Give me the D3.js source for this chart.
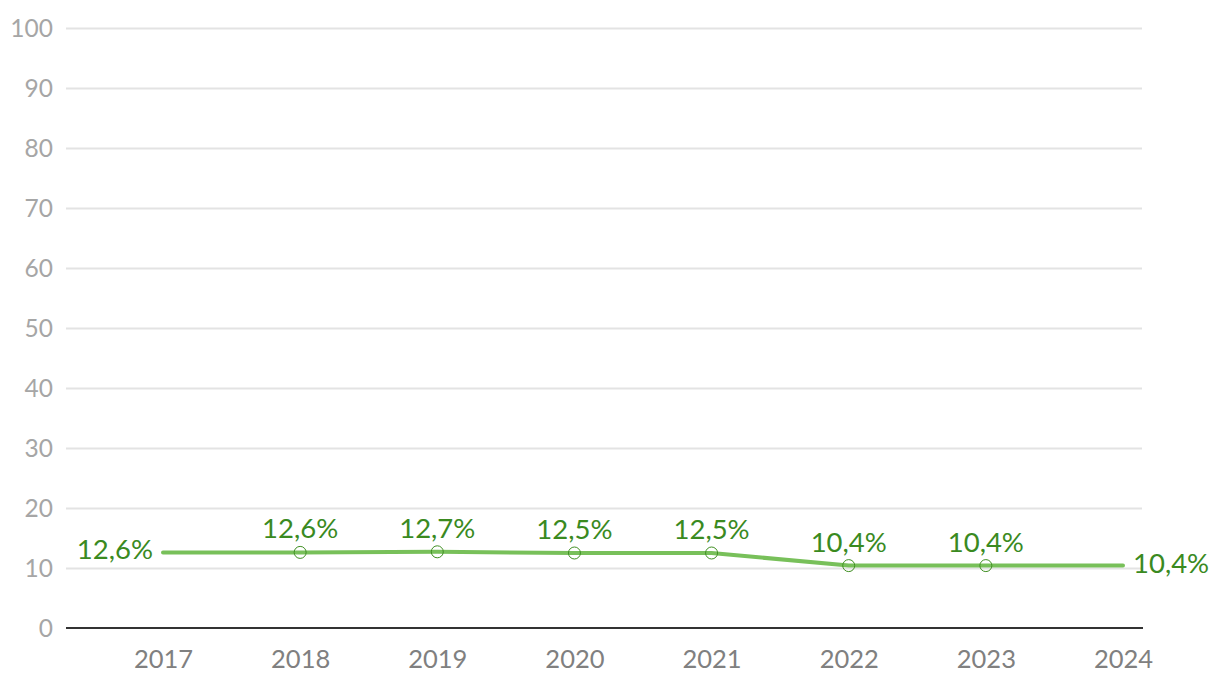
<!DOCTYPE html>
<html><head><meta charset="utf-8">
<script src="https://cdn.jsdelivr.net/npm/d3@7"></script>
<style>body{margin:0;background:#fff}svg{display:block}text{font-family:"Source Sans Pro","Lato","Open Sans",sans-serif}</style>
</head><body>
<svg id="c" width="1220" height="692"></svg>
<script>
const years = [2017, 2018, 2019, 2020, 2021, 2022, 2023, 2024];
const values = [12.6, 12.6, 12.7, 12.5, 12.5, 10.4, 10.4, 10.4];
const labels = ["12,6%", "12,6%", "12,7%", "12,5%", "12,5%", "10,4%", "10,4%", "10,4%"];
const yTicks = [0, 10, 20, 30, 40, 50, 60, 70, 80, 90, 100];

const svg = d3.select("#c");
const x = d3.scaleLinear().domain([2017, 2024]).range([163, 1123]);
const y = d3.scaleLinear().domain([0, 100]).range([628, 28]);
const left = 66, right = 1143;
const FONT = '"Source Sans Pro","Lato","Open Sans",sans-serif';

// gridlines
svg.append("g").selectAll("line").data(yTicks.filter(d => d > 0)).join("line")
  .attr("x1", left).attr("x2", right - 1)
  .attr("y1", d => y(d) + 0.5).attr("y2", d => y(d) + 0.5)
  .attr("stroke", "#e3e3e3").attr("stroke-width", 2);

// y axis labels
const yAxis = d3.axisLeft(y).tickValues(yTicks).tickSize(0).tickPadding(0);
const yg = svg.append("g").attr("transform", `translate(53,0)`).call(yAxis);
yg.select(".domain").remove();
yg.selectAll("text").attr("fill", "#a6a6a6").style("font-size", "24.5px")
  .style("font-family", FONT).attr("dy", "0.36em");

// x axis
const xAxis = d3.axisBottom(x).tickValues(years).tickFormat(d3.format("d")).tickSize(0).tickPadding(0);
const xg = svg.append("g").attr("transform", `translate(0,628)`).call(xAxis);
xg.select(".domain").remove();
xg.selectAll("text").attr("fill", "#808080").style("font-size", "25.5px")
  .style("font-family", FONT).attr("y", 40).attr("dy", 0);
svg.append("line").attr("x1", left).attr("x2", right).attr("y1", 628).attr("y2", 628)
  .attr("stroke", "#333").attr("stroke-width", 2);

// line
const data = years.map((yr, i) => ({yr, v: values[i], l: labels[i], i}));
svg.append("path").datum(data)
  .attr("d", d3.line().x(d => x(d.yr)).y(d => y(d.v)))
  .attr("fill", "none").attr("stroke", "#78c05a").attr("stroke-width", 4)
  .attr("stroke-linecap", "round").attr("stroke-linejoin", "round");

// markers
svg.append("g").selectAll("circle").data(data.slice(1, -1)).join("circle")
  .attr("cx", d => x(d.yr)).attr("cy", d => y(d.v)).attr("r", 6)
  .attr("fill", "none").attr("stroke", "#3f8f22").attr("stroke-width", 1);

// labels
const n = data.length;
svg.append("g").selectAll("text").data(data).join("text")
  .attr("x", d => d.i === 0 ? x(d.yr) - 10 : d.i === n - 1 ? x(d.yr) + 10 : x(d.yr))
  .attr("y", d => (d.i === 0 || d.i === n - 1) ? y(d.v) + 7 : y(d.v) - 14)
  .attr("text-anchor", d => d.i === 0 ? "end" : d.i === n - 1 ? "start" : "middle")
  .attr("fill", "#3a8a1f").style("font-size", "27.5px")
  .text(d => d.l);
</script>
</body></html>
